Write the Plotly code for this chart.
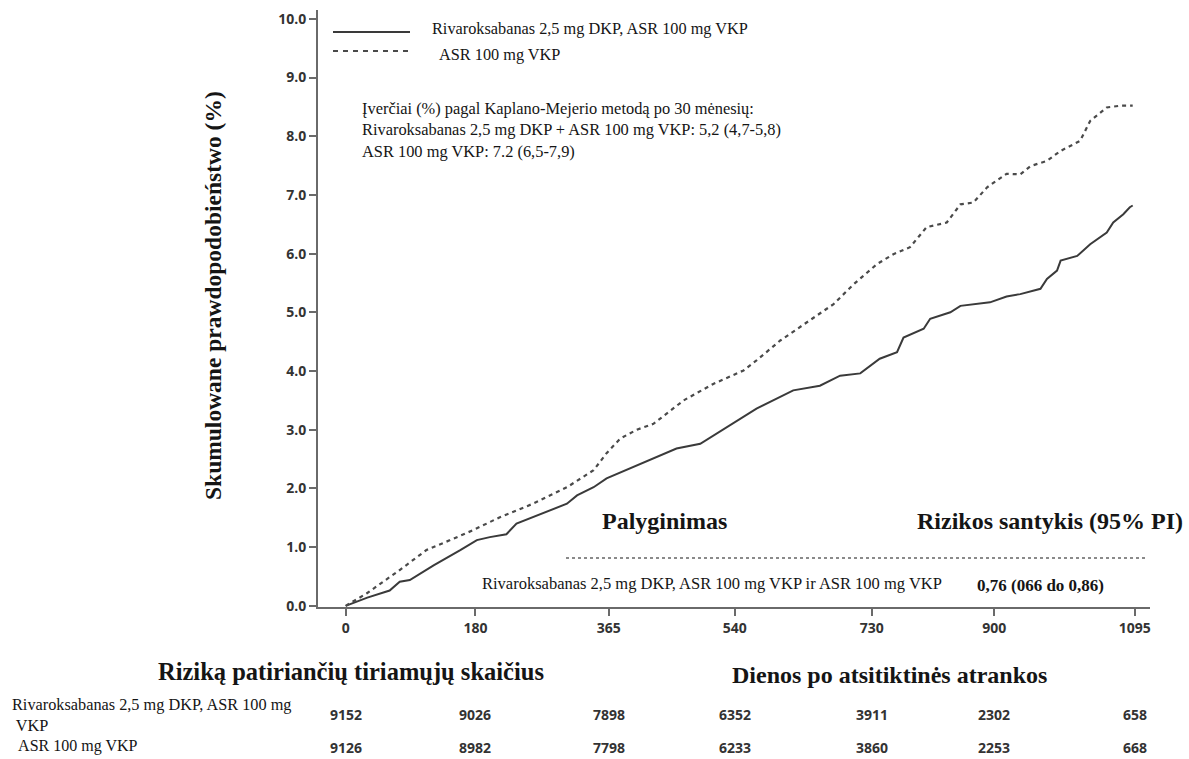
import plotly.graph_objects as go

# ---------------- data ----------------
series_names = ["Rivaroksabanas 2,5 mg DKP, ASR 100 mg VKP", "ASR 100 mg VKP"]

riv_days = [0, 30, 61, 75, 89, 122, 159, 182, 200, 223, 237, 260, 284, 307, 321, 344, 362,
            399, 430, 459, 492, 529, 570, 621, 658, 686, 714, 741, 765, 774, 802, 811, 839,
            853, 894, 917, 936, 964, 973, 987, 992, 1015, 1033, 1056, 1065, 1079, 1088, 1092]
riv_vals = [0.0, 0.14, 0.26, 0.41, 0.44, 0.69, 0.95, 1.12, 1.17, 1.22, 1.40, 1.51, 1.63, 1.74,
            1.88, 2.02, 2.17, 2.36, 2.52, 2.68, 2.76, 3.04, 3.36, 3.67, 3.75, 3.92, 3.96, 4.21,
            4.32, 4.57, 4.72, 4.89, 5.00, 5.11, 5.17, 5.27, 5.31, 5.40, 5.57, 5.71, 5.88, 5.96,
            6.16, 6.36, 6.53, 6.67, 6.79, 6.82]

asa_days = [0, 29, 75, 112, 145, 177, 214, 260, 307, 344, 362, 381, 404, 427, 469, 510, 552,
            570, 603, 640, 677, 705, 737, 760, 783, 806, 834, 853, 871, 890, 917, 936, 950,
            973, 992, 1019, 1033, 1056, 1075, 1092]
asa_vals = [0.0, 0.21, 0.61, 0.95, 1.12, 1.29, 1.51, 1.74, 2.02, 2.31, 2.60, 2.85, 3.00, 3.10,
            3.50, 3.78, 4.01, 4.18, 4.52, 4.83, 5.14, 5.48, 5.82, 5.99, 6.11, 6.45, 6.53, 6.84,
            6.87, 7.13, 7.36, 7.35, 7.49, 7.58, 7.75, 7.92, 8.26, 8.49, 8.52, 8.52]

x_ticks = [0, 180, 365, 540, 730, 900, 1095]
y_ticks = [0, 1, 2, 3, 4, 5, 6, 7, 8, 9, 10]

risk_riv = [9152, 9026, 7898, 6352, 3911, 2302, 658]
risk_asa = [9126, 8982, 7798, 6233, 3860, 2253, 668]

km_text = ["Įverčiai (%) pagal Kaplano-Mejerio metodą po 30 mėnesių:",
           "Rivaroksabanas 2,5 mg DKP + ASR 100 mg VKP: 5,2 (4,7-5,8)",
           "ASR 100 mg VKP: 7.2 (6,5-7,9)"]
comparison_label = "Rivaroksabanas 2,5 mg DKP, ASR 100 mg VKP ir ASR 100 mg VKP"
hazard_ratio = "0,76 (066 do 0,86)"

# ---------------- layout geometry ----------------
W, H = 1189, 759
L, R, T, B = 318, 1150, 10, 607
SERIF = "Liberation Serif, Times New Roman, serif"
SANS = "Open Sans, DejaVu Sans, sans-serif"
TXT = "#151515"


def px(x):
    return (x - L) / (R - L)


def py(y):
    return (B - y) / (B - T)


fig = go.Figure()
fig.add_trace(go.Scatter(x=riv_days, y=riv_vals, mode="lines", name=series_names[0],
                         line=dict(color="#3a3a3a", width=2)))
fig.add_trace(go.Scatter(x=asa_days, y=asa_vals, mode="lines", name=series_names[1],
                         line=dict(color="#4a4a4a", width=2.2, dash="4px,4px")))

fig.update_layout(
    width=W, height=H,
    margin=dict(l=L, r=W - R, t=T, b=H - B, pad=0),
    paper_bgcolor="white", plot_bgcolor="white",
    showlegend=False,
    xaxis=dict(range=[-38.4, 1116], tickvals=x_ticks, ticktext=[str(v) for v in x_ticks],
               showgrid=False, zeroline=False, showline=True, linecolor="#6a6a6a", linewidth=2,
               ticks="outside", ticklen=7, tickwidth=1.5, tickcolor="#6a6a6a",
               tickfont=dict(family=SANS, size=14, color="#333", weight="bold")),
    yaxis=dict(range=[-0.02, 10.15], tickvals=y_ticks, tickformat=".1f",
               showgrid=False, zeroline=False, showline=True, linecolor="#6a6a6a", linewidth=2,
               ticks="outside", ticklen=7, tickwidth=1.5, tickcolor="#6a6a6a",
               tickfont=dict(family=SANS, size=14, color="#333", weight="bold")),
)


def ann(text, x, y, size, bold=False, xanchor="left", family=SERIF, color=TXT, angle=0):
    fig.add_annotation(xref="paper", yref="paper", x=px(x), y=py(y), text=text,
                       showarrow=False, xanchor=xanchor, yanchor="middle", align="left",
                       textangle=angle,
                       font=dict(family=family, size=size, color=color,
                                 weight="bold" if bold else "normal"))


# y axis title
ann("Skumulowane prawdopodobieństwo (%)", 213, 296, 23.5, bold=True, xanchor="center", angle=-90)

# legend
fig.add_shape(type="line", xref="paper", yref="paper", x0=px(333), x1=px(410), y0=py(32), y1=py(32),
              line=dict(color="#3a3a3a", width=2))
fig.add_shape(type="line", xref="paper", yref="paper", x0=px(333), x1=px(410), y0=py(51), y1=py(51),
              line=dict(color="#4a4a4a", width=2.2, dash="5px,5px"))
ann(series_names[0], 430, 28, 16.3)
ann(series_names[1], 437, 55, 16.3)

# KM estimates block
ann("<br>".join(km_text), 360, 130, 16.4)

# comparison block
ann("Palyginimas", 664, 521, 24, bold=True, xanchor="center")
ann("Rizikos santykis (95% PI)", 1050, 521, 24, bold=True, xanchor="center")
fig.add_shape(type="line", xref="paper", yref="paper", x0=px(566), x1=px(1145), y0=py(558), y1=py(558),
              line=dict(color="#8a8a8a", width=2, dash="dot"))
ann(comparison_label, 480, 583, 16.5)
ann(hazard_ratio, 975, 585, 17, bold=True)

# number at risk
ann("Riziką patiriančių tiriamųjų skaičius", 351, 671, 24.5, bold=True, xanchor="center")
ann("Dienos po atsitiktinės atrankos", 889, 675, 24, bold=True, xanchor="center")
ann("Rivaroksabanas 2,5 mg DKP, ASR 100 mg<br> VKP", 10, 715, 16.3)
ann(" ASR 100 mg VKP", 13, 746, 16)

for row, yy in ((risk_riv, 715), (risk_asa, 747)):
    for d, n in zip(x_ticks, row):
        fig.add_annotation(xref="x", yref="paper", x=d, y=py(yy), text=str(n), showarrow=False,
                           xanchor="center", yanchor="middle",
                           font=dict(family=SANS, size=14, color="#333", weight="bold"))

fig.write_html("out.html", config={"displayModeBar": False},
               post_script="document.body.style.margin='0';")
